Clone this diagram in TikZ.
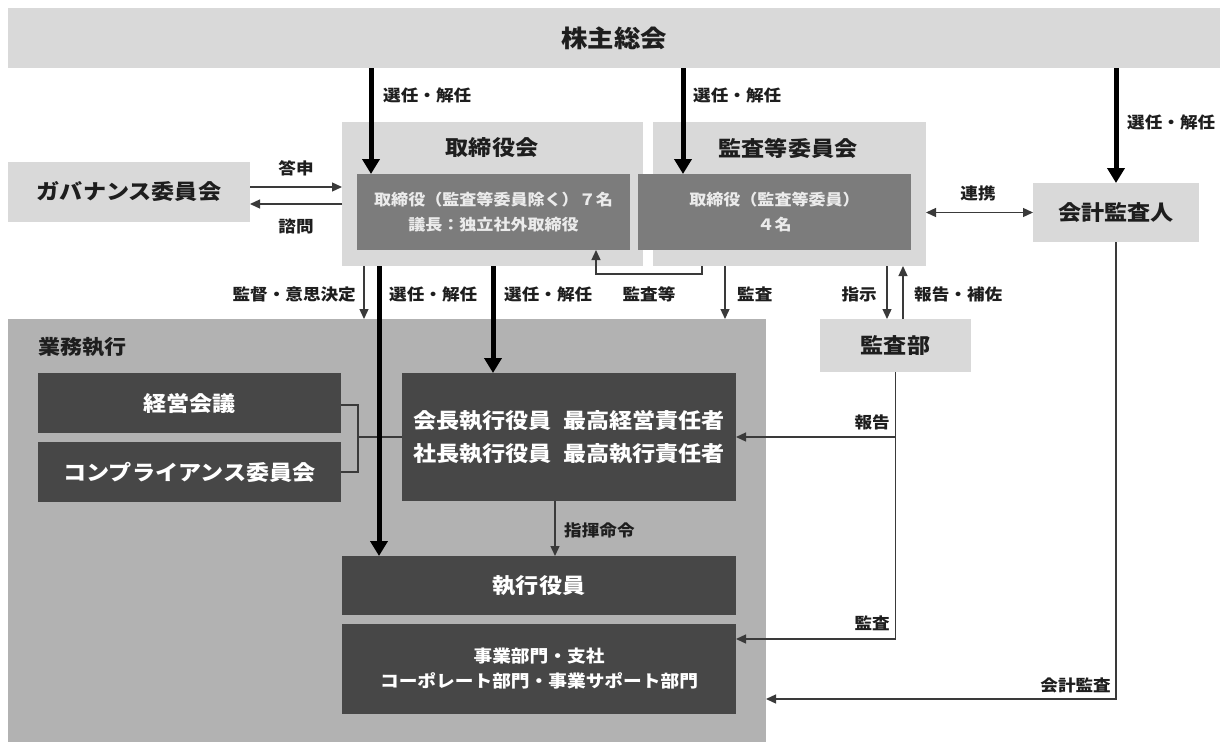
\documentclass[tikz,border=0pt]{standalone}
\usepackage{fontspec}
\setmainfont{Noto Sans CJK JP}[FakeStretch=1.1]
\usetikzlibrary{arrows.meta,calc}
\definecolor{lightbox}{HTML}{D9D9D9}
\definecolor{midbox}{HTML}{7C7C7C}
\definecolor{execbg}{HTML}{B2B2B2}
\definecolor{darkbox}{HTML}{474747}
\definecolor{linec}{HTML}{3A3A3A}
\definecolor{intext}{HTML}{EBEBEB}
\definecolor{txt}{HTML}{1E1E1E}
\newcommand\fs[1]{\fontsize{#1}{#1}\selectfont\bfseries}
\newcommand\fsl[2]{\fontsize{#1}{#2}\selectfont\bfseries}
\tikzset{
  box/.style={inner sep=0pt, outer sep=0pt, draw=none},
  sz/.style 2 args={minimum width=#1pt, minimum height=#2pt},
  lbox/.style={box, fill=lightbox, text=txt},
  mbox/.style={box, fill=midbox, text=intext, align=center},
  dbox/.style={box, fill=darkbox, text=white, align=center},
  lbl/.style={inner sep=0pt, text=txt, font=\fs{16}},
  big/.style={line width=5pt, draw=black, -{Triangle[width=17pt,length=15pt]}},
  conn/.style={line width=1.3pt, draw=linec, -{Triangle[width=9pt,length=10pt]}},
  plain/.style={line width=1.3pt, draw=linec},
}
\begin{document}
\begin{tikzpicture}[x=1pt,y=-1pt]
\useasboundingbox (0,0) rectangle (1226,742);
\fill[white] (0,0) rectangle (1226,742);

% top level boxes
\node[lbox, sz={1212}{60}, font=\fs{24}] (gm) at (614,38) {株主総会};
\node[lbox, sz={301}{144}] (tb) at (492.5,194) {};
\node[lbox, sz={273}{144}] (ac) at (789.5,194) {};
\node[inner sep=0pt, text=txt, font=\fs{21}] (tbt) at (492,148) {取締役会};
\node[inner sep=0pt, text=txt, font=\fs{21}] (act) at (788,148) {監査等委員会};
\node[mbox, sz={273}{76}, font=\fsl{15.5}{25}] (tbi) at (493.5,212) {取締役（監査等委員除く）７名\\議長：独立社外取締役};
\node[mbox, sz={273}{76}, font=\fsl{15.5}{25}] (aci) at (774.5,212) {取締役（監査等委員）\\４名};
\node[lbox, sz={242}{60}, font=\fs{21}] (gov) at (129,192) {ガバナンス委員会};
\node[lbox, sz={166}{59}, font=\fs{21}] (aud) at (1116,212.5) {会計監査人};
\node[lbox, sz={151}{53}, font=\fs{21}] (kd) at (895.5,345.5) {監査部};

% execution area
\node[box, fill=execbg, sz={758}{423}] (ex) at (387,530.5) {};
\node[anchor=west, inner sep=0pt, text=txt, font=\fs{20}] (ext) at (38,347) {業務執行};
\node[dbox, sz={303}{60}, font=\fs{21}] (keiei) at (189.5,403) {経営会議};
\node[dbox, sz={303}{60}, font=\fs{21}] (comp) at (189.5,472) {コンプライアンス委員会};
\node[dbox, sz={334}{128}, font=\fsl{21}{33}] (ceo) at (569,437) {会長執行役員\hspace{0.55em}最高経営責任者\\社長執行役員\hspace{0.55em}最高執行責任者};
\node[dbox, sz={394}{59}, font=\fs{21}] (eo) at (539,585.5) {執行役員};
\node[dbox, sz={394}{90}, font=\fsl{17}{25}] (dept) at (539,669) {事業部門・支社\\コーポレート部門・事業サポート部門};

% helper coordinates
\coordinate (xa) at (371,0);
\coordinate (xb) at (683,0);
\coordinate (xd) at (379,0);
\coordinate (xe) at (493,0);
\coordinate (xf) at (364,0);
\coordinate (xg) at (702,0);
\coordinate (xg2) at (596,274);
\coordinate (xh) at (725,0);
\coordinate (xi) at (887,0);
\coordinate (xj) at (903,0);
\coordinate (xn) at (555,0);
\coordinate (ya) at (0,187);
\coordinate (yb) at (0,204);
\coordinate (b1) at (358,405);
\coordinate (b2) at (358,472);
\coordinate (yk) at (0,639);
\coordinate (yl) at (0,699);

% connectors
\draw[big] (gm.south -| xa) -- (tbi.north -| xa);
\draw[big] (gm.south -| xb) -- (aci.north -| xb);
\draw[big] (gm.south -| aud.north) -- (aud.north);
\draw[conn] (gov.east |- ya) -- (tb.west |- ya);
\draw[conn] (tb.west |- yb) -- (gov.east |- yb);
\draw[conn, {Triangle[width=9pt,length=10pt]}-{Triangle[width=9pt,length=10pt]}] (ac.east |- aud.west) -- (aud.west);
\draw[conn] (tb.south -| xf) -- (ex.north -| xf);
\draw[conn] (ac.south -| xg) |- (xg2) -- (tbi.south -| xg2);
\draw[conn] (ac.south -| xh) -- (ex.north -| xh);
\draw[conn] (ac.south -| xi) -- (kd.north -| xi);
\draw[conn] (kd.north -| xj) -- (ac.south -| xj);
\draw[plain] (keiei.east |- b1) -- (b1) -- (b2) -- (comp.east |- b2);
\draw[plain] (b1 |- ceo.west) -- (ceo.west);
\draw[big] (tb.south -| xd) -- (eo.north -| xd);
\draw[big] (tb.south -| xe) -- (ceo.north -| xe);
\draw[conn] (ceo.south -| xn) -- (eo.north -| xn);
\draw[conn] (kd.south) |- (dept.east |- yk);
\draw[conn] (kd.south |- ceo.east) -- (ceo.east);
\draw[conn] (aud.south) |- (ex.east |- yl);

% labels
\node[lbl, anchor=west] (l1) at (383,95) {選任・解任};
\node[lbl, anchor=west] (l2) at (693,95) {選任・解任};
\node[lbl, anchor=west] (l3) at (1127,122) {選任・解任};
\node[lbl] (l4) at (296,168) {答申};
\node[lbl] (l5) at (296,226) {諮問};
\node[lbl] (l6) at (978,193) {連携};
\node[lbl, anchor=east] (l7) at (356,294) {監督・意思決定};
\node[lbl, anchor=west] (l8) at (389,294) {選任・解任};
\node[lbl, anchor=west] (l9) at (504,294) {選任・解任};
\node[lbl] (l10) at (649,294) {監査等};
\node[lbl, anchor=west] (l11) at (737,294) {監査};
\node[lbl, anchor=east] (l12) at (877,294) {指示};
\node[lbl, anchor=west] (l13) at (914,294) {報告・補佐};
\node[lbl, anchor=west] (l14) at (564,530) {指揮命令};
\node[lbl, anchor=east] (l15) at (890,422) {報告};
\node[lbl, anchor=east] (l16) at (890,623) {監査};
\node[lbl, anchor=east] (l17) at (1111,685) {会計監査};
\end{tikzpicture}
\end{document}
